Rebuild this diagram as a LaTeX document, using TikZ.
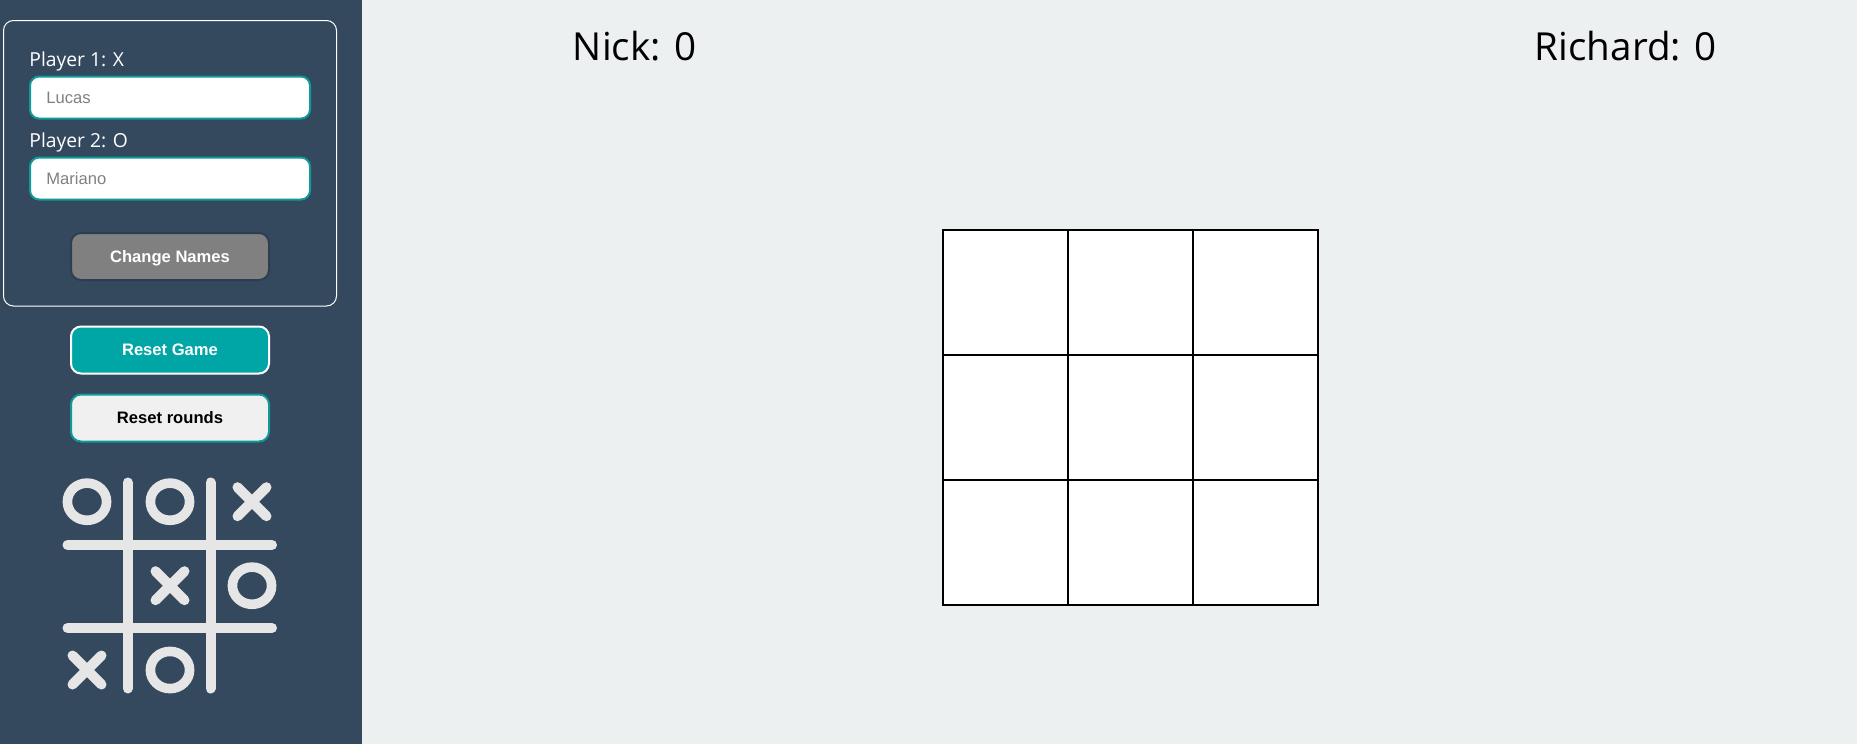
\documentclass[tikz,border=0pt]{standalone}
\usepackage{fontspec}
\setmainfont{Open Sans}
\newfontfamily\arialfont{Liberation Sans}
\usetikzlibrary{shapes.geometric}
\definecolor{sidebar}{HTML}{34495E}
\definecolor{page}{HTML}{ECF0F1}
\definecolor{teal}{HTML}{0F9A9A}
\definecolor{tealfill}{HTML}{00A5A5}
\definecolor{logogray}{HTML}{E6E6E6}
\definecolor{btngray}{HTML}{808080}
\definecolor{btnedge}{HTML}{2C3E50}
\tikzstyle{score}=[anchor=base west,inner sep=0pt,font=\fontsize{19.3}{22}\selectfont,text=black]
\tikzstyle{player}=[anchor=base west,inner sep=0pt,font=\fontsize{9.65}{12}\selectfont,text=white]
\tikzstyle{field}=[draw=teal,fill=white,line width=1pt,rounded corners=4.5pt,minimum width=140pt,minimum height=21pt,inner sep=0pt]
\tikzstyle{hint}=[anchor=base west,inner sep=0pt,font=\arialfont\fontsize{8.3}{10}\selectfont,text=gray]
\tikzstyle{button}=[line width=1pt,rounded corners=5pt,minimum width=99pt,minimum height=23.5pt,inner sep=0pt,text height=5.6pt,text depth=0pt,font=\arialfont\bfseries\fontsize{8.3}{10}\selectfont]
\tikzstyle{cell}=[rectangle,draw=black,fill=white,line width=1pt,minimum size=62.5pt,inner sep=0pt]
\tikzstyle{bar}=[logogray,line width=5pt,line cap=round]
\tikzstyle{ring}=[ellipse,draw=logogray,line width=4.8pt,minimum width=19.6pt,minimum height=18.6pt,inner sep=0pt]
\begin{document}
\begin{tikzpicture}[x=0.5pt,y=-0.5pt]
	\useasboundingbox (0,0) rectangle (1857,744);
	\fill[page] (0,0) rectangle (1857,744);
	\fill[sidebar] (0,0) rectangle (361.8,744);
	\draw[white,line width=0.5pt,rounded corners=5pt] (3.5,20.5) rectangle (336.5,306);
	% names panel
	\node[player] (labelone) at (29,66) {Player 1: X};
	\node[field] (inputone) at (170,97.5) {};
	\node[hint] (hintone) at (46,103.5) {Lucas};
	\node[player] (labeltwo) at (29,147) {Player 2: O};
	\node[field] (inputtwo) at (170,178.5) {};
	\node[hint] (hinttwo) at (46,184) {Mariano};
	\node[button,draw=btnedge,fill=btngray,text=white] (change) at (170,256.5) {Change Names};
	\node[button,draw=white,fill=tealfill,text=white] (resetgame) at (170,350) {Reset Game};
	\node[button,draw=teal,fill=black!6,text=black] (resetrounds) at (170,418) {Reset rounds};
	% logo
	\foreach \x in {127.7,210.5}
		\draw[bar] (\x,482.5) -- (\x,688.5);
	\foreach \y in {545,628}
		\draw[bar] (67.5,\y) -- (272,\y);
	\foreach \x/\y/\n in {87/501.7/a,170/501.7/b,252/585.7/c,170/670/d}
		\node[ring] (ring\n) at (\x,\y) {};
	\foreach \x/\y in {252/501.7,170/585.7,87/670}{
		\draw[bar] (\x-14.5,\y-14.5) -- (\x+14.5,\y+14.5);
		\draw[bar] (\x-14.5,\y+14.5) -- (\x+14.5,\y-14.5);
	}
	% scores
	\node[score] (nick) at (572.5,60) {Nick: 0};
	\node[score] (richard) at (1534.5,60) {Richard: 0};
	% board
	\foreach \i in {0,1,2}
		\foreach \j in {0,1,2}
			\node[cell] (c\i\j) at ({1005.5+125*\j},{292.5+125*\i}) {};
\end{tikzpicture}
\end{document}
